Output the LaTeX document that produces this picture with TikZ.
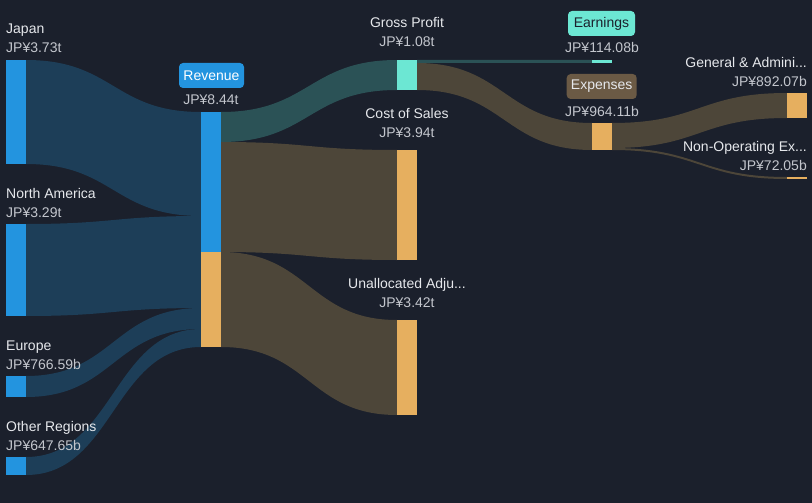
\documentclass[tikz,border=0pt]{standalone}
\usepackage{fontspec}
\setmainfont{Liberation Sans}
\definecolor{bg}{HTML}{1B202C}
\definecolor{barblue}{HTML}{2394DF}
\definecolor{flowblue}{HTML}{1D3E58}
\definecolor{barteal}{HTML}{6CE7D3}
\definecolor{flowteal}{HTML}{2B5256}
\definecolor{bargold}{HTML}{E6AF5F}
\definecolor{flowbrown}{HTML}{4D4639}
\definecolor{expbox}{HTML}{6B5A45}
\definecolor{nametext}{HTML}{E6E8EC}
\definecolor{valtext}{HTML}{C3C6CD}
\newcommand\sankeyflow[7]{%
  \fill[#7] (#1,#2) .. controls ({(#1+#4)/2},#2) and ({(#1+#4)/2},#5) .. (#4,#5)
    -- (#4,#6) .. controls ({(#1+#4)/2},#6) and ({(#1+#4)/2},#3) .. (#1,#3) -- cycle;}
\tikzset{
  bar/.style={draw=none, inner sep=0pt, minimum width=20pt, anchor=north west},
  lbl/.style={font=\fontsize{14}{16}\selectfont, text=nametext, inner sep=0pt},
  val/.style={font=\fontsize{14}{16}\selectfont, text=valtext, inner sep=0pt},
  tagbox/.style={font=\fontsize{14}{16}\selectfont, rounded corners=4pt, inner sep=0pt, minimum height=25pt}
}
\begin{document}
\begin{tikzpicture}[x=1pt,y=-1pt]
\fill[bg] (0,0) rectangle (812,503);
\useasboundingbox (0,0) rectangle (812,503);
% flows
\sankeyflow{26}{60}{164}{201}{112}{216}{flowblue}
\sankeyflow{26}{224}{316}{201}{216}{308}{flowblue}
\sankeyflow{26}{376}{397}{201}{308}{329}{flowblue}
\sankeyflow{26}{457}{475}{201}{329}{347}{flowblue}
\sankeyflow{221}{112}{142}{397}{60}{90}{flowteal}
\sankeyflow{221}{142}{252}{397}{150}{260}{flowbrown}
\sankeyflow{221}{252}{347}{397}{320}{415}{flowbrown}
\sankeyflow{417}{60}{63}{592}{60}{63}{flowteal}
\sankeyflow{417}{63}{90}{592}{123}{150}{flowbrown}
\sankeyflow{612}{123}{148}{787}{93}{118}{flowbrown}
\sankeyflow{612}{148}{150}{787}{177}{179}{flowbrown}
% bars
\node[bar, fill=barblue, minimum height=104pt] (japan) at (6,60) {};
\node[bar, fill=barblue, minimum height=92pt] (namerica) at (6,224) {};
\node[bar, fill=barblue, minimum height=21pt] (europe) at (6,376) {};
\node[bar, fill=barblue, minimum height=18pt] (other) at (6,457) {};
\node[bar, fill=barblue, minimum height=140pt] (revenue) at (201,112) {};
\node[bar, fill=bargold, minimum height=95pt] (revadj) at (201,252) {};
\node[bar, fill=barteal, minimum height=30pt] (gross) at (397,60) {};
\node[bar, fill=bargold, minimum height=110pt] (cos) at (397,150) {};
\node[bar, fill=bargold, minimum height=95pt] (unalloc) at (397,320) {};
\node[bar, fill=barteal, minimum height=3pt] (earn) at (592,60) {};
\node[bar, fill=bargold, minimum height=27pt] (exp) at (592,123) {};
\node[bar, fill=bargold, minimum height=25pt] (gna) at (787,93) {};
\node[bar, fill=bargold, minimum height=2pt] (nonop) at (787,177) {};
% labels left
\node[lbl, anchor=base west] (japanL) at (6,34) {Japan};
\node[val, anchor=base west] (japanV) at (6,53) {JP¥3.73t};
\node[lbl, anchor=base west] (naL) at (6,198) {North America};
\node[val, anchor=base west] (naV) at (6,217) {JP¥3.29t};
\node[lbl, anchor=base west] (euL) at (6,350) {Europe};
\node[val, anchor=base west] (euV) at (6,369) {JP¥766.59b};
\node[lbl, anchor=base west] (otL) at (6,431) {Other Regions};
\node[val, anchor=base west] (otV) at (6,450) {JP¥647.65b};
% revenue
\node[tagbox, fill=barblue, text=white, minimum width=65pt] (revL) at (211.5,75.5) {Revenue};
\node[val, anchor=base] (revV) at (211,105) {JP¥8.44t};
% middle
\node[lbl, anchor=base] (gpL) at (407,28) {Gross Profit};
\node[val, anchor=base] (gpV) at (407,47) {JP¥1.08t};
\node[lbl, anchor=base] (cosL) at (407,118) {Cost of Sales};
\node[val, anchor=base] (cosV) at (407,137) {JP¥3.94t};
\node[lbl, anchor=base] (unL) at (407,288) {Unallocated Adju...};
\node[val, anchor=base] (unV) at (407,307) {JP¥3.42t};
% right middle
\node[tagbox, fill=barteal, text=bg, minimum width=67pt] (earnL) at (601.5,23.5) {Earnings};
\node[val, anchor=base] (earnV) at (602,53) {JP¥114.08b};
\node[tagbox, fill=expbox, text=nametext, minimum width=70pt] (expL) at (601.7,86.5) {Expenses};
\node[val, anchor=base] (expV) at (602,116.5) {JP¥964.11b};
% right
\node[lbl, anchor=base east] (gnaL) at (807,67) {General \& Admini...};
\node[val, anchor=base east] (gnaV) at (807,86.5) {JP¥892.07b};
\node[lbl, anchor=base east] (noL) at (807,151.5) {Non-Operating Ex...};
\node[val, anchor=base east] (noV) at (807,170.5) {JP¥72.05b};
\end{tikzpicture}
\end{document}
